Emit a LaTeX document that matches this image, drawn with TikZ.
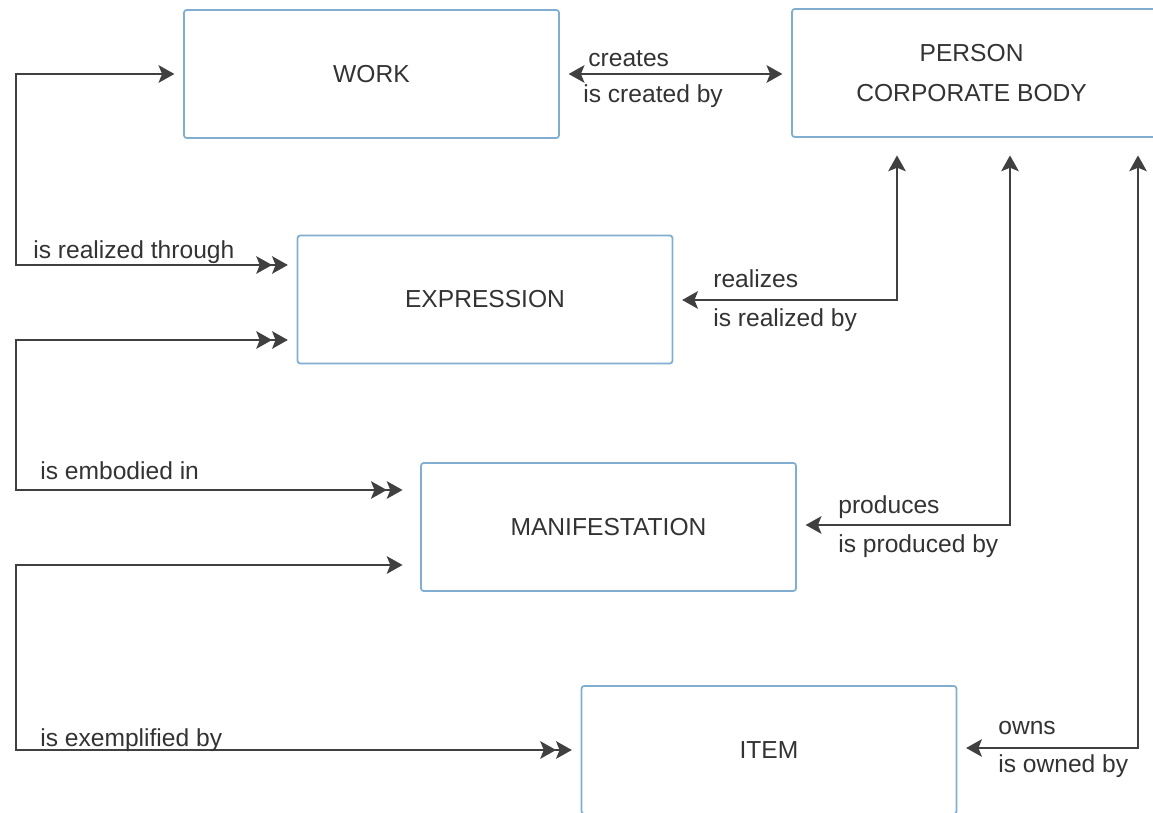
\documentclass[tikz,border=0pt]{standalone}
\usepackage{fontspec}
\setmainfont{Liberation Sans}
\usetikzlibrary{arrows.meta}
\definecolor{boxblue}{HTML}{7FAED0}
\definecolor{linegray}{HTML}{404040}
\definecolor{textgray}{HTML}{333333}
\tikzset{
    entity/.style={draw=boxblue, line width=1pt, rounded corners=1.5pt,
        minimum width=7.5cm, minimum height=2.56cm, text=textgray,
        align=center, font=\fontsize{14}{23}\selectfont},
    rel/.style={draw=linegray, line width=1.1pt,
        >={Stealth[length=9pt,width=10pt,inset=2pt]},
        shorten <=5pt, shorten >=5pt},
    lbl/.style={anchor=base west, inner sep=0pt, text=textgray,
        font=\fontsize{14}{17}\selectfont}
}
\begin{document}
\begin{tikzpicture}[x=0.02cm,y=-0.02cm]
        \useasboundingbox (0,0) rectangle (1153,813);
        \clip (0,0) rectangle (1153,813);
        \node[entity] at (371.5,74) (work) {WORK};
        \node[entity] at (979.5,73) (person)
            {\hspace*{-9pt}PERSON\\\hspace*{-9pt}CORPORATE BODY};
        \node[entity] at (485,299.5) (expression) {EXPRESSION};
        \node[entity] at (608.5,527) (manifestation) {MANIFESTATION};
        \node[entity] at (769,750) (item) {ITEM};
        \coordinate (w1) at (16,265);
        \coordinate (e1) at (16,340);
        \coordinate (e2) at (16,490);
        \coordinate (m1) at (16,565);
        \coordinate (m2) at (16,750);
        \coordinate (p1) at (897,300);
        \coordinate (p2) at (1010,525);
        \coordinate (p3) at (1138,748);
        % work - person
        \draw[rel,<->] (work.east) -- (work.east -| person.west);
        \node[lbl] at (588,67) (lcreates) {creates};
        \node[lbl] at (583,103) (lcreatedby) {is created by};
        % left side loops
        \draw[rel,<->>] (work.west) -| (w1) -- (w1 -| expression.west);
        \node[lbl] at (33,259) (lrealthrough) {is realized through};
        \draw[rel,<<->>,shorten >=10pt] (e1 -| expression.west) -- (e1)
            -- (e2) -- (e2 -| manifestation.west);
        \node[lbl] at (40,480) (lembodied) {is embodied in};
        \draw[rel,<->>,shorten <=10pt] (m1 -| manifestation.west) -- (m1)
            -- (m2) -- (m2 -| item.west);
        \node[lbl] at (40,746) (lexemplified) {is exemplified by};
        % right side links to person
        \draw[rel,<->,shorten >=10pt] (p1 -| expression.east) -- (p1)
            -- (p1 |- person.south);
        \node[lbl] at (713,288) (lrealizes) {realizes};
        \node[lbl] at (713,327) (lrealizedby) {is realized by};
        \draw[rel,<->,shorten >=10pt] (p2 -| manifestation.east) -- (p2)
            -- (p2 |- person.south);
        \node[lbl] at (838,514) (lproduces) {produces};
        \node[lbl] at (838,553) (lproducedby) {is produced by};
        \draw[rel,<->,shorten >=10pt] (p3 -| item.east) -- (p3)
            -- (p3 |- person.south);
        \node[lbl] at (998,735) (lowns) {owns};
        \node[lbl] at (998,772) (lownedby) {is owned by};
    \end{tikzpicture}
\end{document}
